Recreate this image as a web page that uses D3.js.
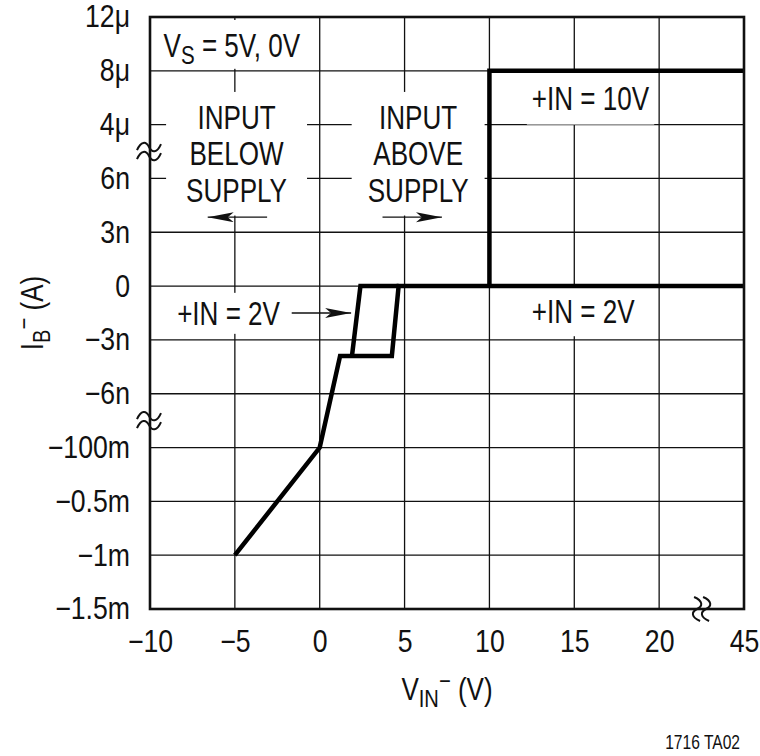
<!DOCTYPE html>
<html>
<head>
<meta charset="utf-8">
<script src="https://cdn.jsdelivr.net/npm/d3@7"></script>
<style>
  body { margin:0; background:#fff; }
  text { font-family:"Liberation Sans",Arial,sans-serif; fill:#111; }
</style>
</head>
<body>
<div class="chart"></div>
<script>
// tick labels
const xTicks = [-10, -5, 0, 5, 10, 15, 20, 45];
const yTicks = ['12μ', '8μ', '4μ', '6n', '3n', '0', '−3n', '−6n', '−100m', '−0.5m', '−1m', '−1.5m'];

// curves: [V_IN (V), position on the y tick list (0 = 12μ ... 11 = −1.5m)]
const curve2V = [[-5, 10], [0, 8], [1.2, 6.3], [4.25, 6.3], [4.65, 5], [45, 5]];
const curve2VRise = [[1.9, 6.3], [2.4, 5], [4.65, 5]];
const curve10V = [[10, 5], [10, 1], [45, 1]];

const W = 760, H = 756;
const m = {top:17, right:16, bottom:147, left:150};
const plotW = W - m.left - m.right;
const plotH = H - m.top - m.bottom;
// narrow the font like a condensed face
const K_TICK = 0.86, K_NOTE = 0.79, K_TITLE = 0.84;

// squeeze text horizontally around its anchor x
function squeeze(sel, k){
  sel.each(function(){
    const t = d3.select(this);
    const x0 = +t.attr('x') || 0;
    const tr = t.attr('transform') || '';
    t.attr('transform', `${tr} translate(${x0},0) scale(${k},1) translate(${-x0},0)`);
  });
}

const svg = d3.select('.chart').append('svg')
  .attr('width', W).attr('height', H);
const g = svg.append('g').attr('transform', `translate(${m.left},${m.top})`);

// x is linear up to 20V, then broken to 45V in the last division
const x = d3.scaleLinear().domain([-10, 20, 45]).range([0, plotW * 6 / 7, plotW]);
const yPt = d3.scalePoint().domain(yTicks).range([0, plotH]);
const y = d3.scaleLinear().domain([0, yTicks.length - 1]).range([0, plotH]);

// grid
g.append('g').selectAll('line').data(xTicks).join('line')
  .attr('x1', d => x(d)).attr('x2', d => x(d))
  .attr('y1', 0).attr('y2', plotH)
  .attr('stroke', '#111').attr('stroke-width', 1.3);
g.append('g').selectAll('line').data(yTicks).join('line')
  .attr('y1', d => yPt(d)).attr('y2', d => yPt(d))
  .attr('x1', 0).attr('x2', plotW)
  .attr('stroke', '#111').attr('stroke-width', 1.3);

// annotations (text position in data units, pad = white box around text)
const notes = [
  {lines:['INPUT', 'BELOW', 'SUPPLY'], vx:-4.9, vy:2.08, anchor:'middle', pad:[20, 13]},
  {lines:['INPUT', 'ABOVE', 'SUPPLY'], vx:5.8, vy:2.08, anchor:'middle', pad:[16, 13]},
  {lines:['+IN = 10V'], vx:12.5, vy:1.72, anchor:'start', pad:[5, 14]},
  {lines:['+IN = 2V'], vx:12.5, vy:5.69, anchor:'start', pad:[8, 12]},
  {lines:['+IN = 2V'], vx:-8.4, vy:5.72, anchor:'start', pad:[6, 8]}
];
const bgLayer = g.append('g');
const lineLayer = g.append('g');
const textLayer = g.append('g');

notes.forEach(n => {
  const x0 = x(n.vx);
  const t = textLayer.append('text')
    .attr('x', x0).attr('y', y(n.vy))
    .attr('text-anchor', n.anchor)
    .style('font-size', '33px');
  n.lines.forEach((s, i) => {
    t.append('tspan').attr('x', x0).attr('dy', i == 0 ? 0 : '1.1em').text(s);
  });
  const b = t.node().getBBox();
  squeeze(t, K_NOTE);
  const bx = x0 + (b.x - x0) * K_NOTE, bw = b.width * K_NOTE;
  bgLayer.append('rect')
    .attr('x', bx - n.pad[0]).attr('y', b.y + 6 - n.pad[1])
    .attr('width', bw + 2 * n.pad[0]).attr('height', b.height - 12 + 2 * n.pad[1])
    .attr('fill', '#fff');
});

// V_S label
const vs = textLayer.append('text').attr('x', x(-9.2)).attr('y', y(0.74)).style('font-size', '33px');
vs.append('tspan').text('V');
vs.append('tspan').attr('dy', 7).style('font-size', '26px').text('S');
vs.append('tspan').attr('dy', -7).text(' = 5V, 0V');
const vb = vs.node().getBBox();
squeeze(vs, K_NOTE);
bgLayer.append('rect').attr('x', x(-9.2) - 10).attr('y', 3).attr('width', vb.width * K_NOTE + 20)
  .attr('height', yPt('8μ') - 5).attr('fill', '#fff');

// arrows
svg.append('defs').append('marker')
  .attr('id', 'head').attr('markerUnits', 'userSpaceOnUse')
  .attr('markerWidth', 28).attr('markerHeight', 12)
  .attr('refX', 26).attr('refY', 5).attr('orient', 'auto')
  .append('path').attr('d', 'M0,0 L26,5 L0,10 L6,5 Z').attr('fill', '#111');
const arrows = [
  [[-3.1, 3.72], [-6.6, 3.72]],
  [[3.7, 3.72], [7.2, 3.72]],
  [[-1.65, 5.5], [1.85, 5.5]]
];
textLayer.selectAll('.arrow').data(arrows).join('line').attr('class', 'arrow')
  .attr('x1', d => x(d[0][0])).attr('y1', d => y(d[0][1]))
  .attr('x2', d => x(d[1][0])).attr('y2', d => y(d[1][1]))
  .attr('stroke', '#111').attr('stroke-width', 1.3)
  .attr('marker-end', 'url(#head)');

// curves
const line = d3.line().x(d => x(d[0])).y(d => y(d[1]));
lineLayer.selectAll('path').data([curve2V, curve2VRise, curve10V]).join('path')
  .attr('d', line).attr('fill', 'none')
  .attr('stroke', '#000').attr('stroke-width', 4.5)
  .attr('stroke-linejoin', 'miter');

// frame
g.append('rect').attr('width', plotW).attr('height', plotH)
  .attr('fill', 'none').attr('stroke', '#111').attr('stroke-width', 2.6);

// break marks
const tilde = 'M-12,3 C-8,-6 -3,-6 0,0 S8,6 12,-3';
const breaks = [
  {tx:-1, ty:y(2.5), rot:0},
  {tx:-1, ty:y(7.5), rot:0},
  {tx:(x(20) + x(45)) / 2, ty:plotH, rot:90}
];
breaks.forEach(b => {
  const bg = g.append('g').attr('transform', `translate(${b.tx},${b.ty}) rotate(${b.rot})`);
  [-4.5, 4.5].forEach(o => {
    bg.append('path').attr('d', tilde).attr('transform', `translate(0,${o})`)
      .attr('fill', 'none').attr('stroke', '#111').attr('stroke-width', 2);
  });
});

// axes (labels only)
const xAxis = d3.axisBottom(x).tickValues(xTicks).tickFormat(d3.format('d'))
  .tickSize(0).tickPadding(21);
const xAxisDraw = g.append('g').attr('transform', `translate(0,${plotH})`).call(xAxis);
const yAxis = d3.axisLeft(yPt).tickSize(0).tickPadding(20);
const yAxisDraw = g.append('g').call(yAxis);
[xAxisDraw, yAxisDraw].forEach(a => {
  a.select('.domain').remove();
  a.selectAll('text').style('font-size', '31px').style('font-family', null).attr('fill', '#111');
  squeeze(a.selectAll('text'), K_TICK);
});

// axis titles
const xt = svg.append('text').attr('x', m.left + plotW / 2).attr('y', 700)
  .attr('text-anchor', 'middle').style('font-size', '31px');
xt.append('tspan').text('V');
xt.append('tspan').attr('dy', 7).style('font-size', '24px').text('IN');
xt.append('tspan').attr('dy', -18).style('font-size', '24px').text('−');
xt.append('tspan').attr('dy', 11).text(' (V)');
squeeze(xt, K_TITLE);

const yt = svg.append('text')
  .attr('transform', `translate(43,${m.top + plotH / 2}) rotate(-90) scale(${K_TITLE},1)`)
  .attr('text-anchor', 'middle').style('font-size', '31px');
yt.append('tspan').text('I');
yt.append('tspan').attr('dy', 7).style('font-size', '24px').text('B');
yt.append('tspan').attr('dy', -18).style('font-size', '24px').text('−');
yt.append('tspan').attr('dy', 11).text(' (A)');

const foot = svg.append('text').attr('x', 740).attr('y', 749).attr('text-anchor', 'end')
  .style('font-size', '20px').text('1716 TA02');
squeeze(foot, 0.78);
</script>
</body>
</html>
